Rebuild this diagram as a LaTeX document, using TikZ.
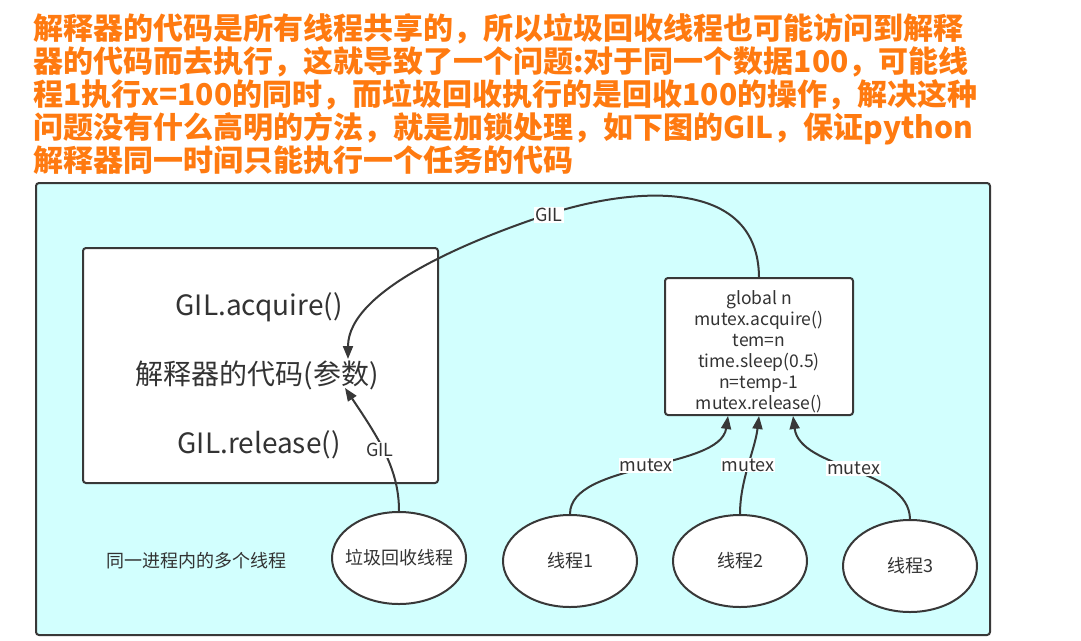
\documentclass[tikz,border=0pt]{standalone}
\usepackage{fontspec}
\setmainfont{Noto Sans CJK SC}
\usepackage{xcolor}
\usetikzlibrary{positioning, shapes, arrows.meta, calc}

\definecolor{titleorange}{HTML}{FF7A10}
\definecolor{bgcyan}{HTML}{D2FFFE}
\definecolor{linegray}{HTML}{383838}
\definecolor{textgray}{HTML}{333333}

\begin{document}
\begin{tikzpicture}[x=1pt, y=-1pt,
    frame/.style={draw=linegray, line width=2pt, rounded corners=3pt},
    thread/.style={ellipse, draw=linegray, fill=white, line width=2pt, inner sep=0pt, minimum width=134pt, minimum height=92pt},
    threadtext/.style={font=\fontsize{18pt}{21pt}\selectfont, text=textgray},
    boxtext/.style={font=\fontsize{28pt}{32pt}\selectfont, text=textgray},
    conn/.style={draw=linegray, line width=2pt, -{Triangle[length=13pt, width=10pt]}},
    lbl/.style={fill=white, inner sep=1pt, font=\fontsize{18pt}{21pt}\selectfont, text=textgray}]
  \useasboundingbox (0,0) rectangle (1081,640);

  % Explanation above the diagram
  \node[anchor=north west, align=left, inner sep=0, text=titleorange,
        font=\fontsize{30pt}{33pt}\selectfont\bfseries] (title) at (33,13)
    {解释器的代码是所有线程共享的，所以垃圾回收线程也可能访问到解释\\
     器的代码而去执行，这就导致了一个问题:对于同一个数据100，可能线\\
     程1执行x=100的同时，而垃圾回收执行的是回收100的操作，解决这种\\
     问题没有什么高明的方法，就是加锁处理，如下图的GIL，保证python\\
     解释器同一时间只能执行一个任务的代码};

  % Process area and boxes
  \node[frame, fill=bgcyan, anchor=north west, minimum width=954pt, minimum height=452pt] (proc) at (35,182) {};
  \node[frame, fill=white, anchor=north west, minimum width=355pt, minimum height=235pt] (interp) at (82,247) {};
  \node[boxtext] (acq) at (259,307) {GIL.acquire()};
  \node[boxtext] (code) at (257,375) {解释器的代码(参数)};
  \node[boxtext] (rel) at (259,445) {GIL.release()};

  \node[frame, fill=white, minimum width=188pt, minimum height=137pt] (codebox) at (759,346.5) {};
  \node[align=center, text=textgray, font=\fontsize{17.5pt}{21pt}\selectfont] (codetext) at (759,352)
    {global n\\mutex.acquire()\\tem=n\\time.sleep(0.5)\\n=temp-1\\mutex.release()};

  \node[threadtext] (note) at (196,561) {同一进程内的多个线程};

  % Threads
  \node[thread, label={[threadtext]center:垃圾回收线程}] (gc) at (399,558) {};
  \foreach \n/\x/\y in {1/570/561, 2/740/561, 3/910/566}
    \node[thread, label={[threadtext]center:线程\n}] (t\n) at (\x,\y) {};

  \coordinate (gilin) at (348,359);
  \coordinate (gilgc) at (345,388);
  \coordinate (m1) at ([xshift=-31pt]codebox.south);
  \coordinate (m2) at (codebox.south);
  \coordinate (m3) at ([xshift=34pt]codebox.south);

  % GIL arrows
  \draw[conn] (codebox.north) .. controls (758,180) and (640,185) .. (549,214)
    .. controls (470,240) and (348,290) .. (gilin);
  \node[lbl] (giltop) at (549,215) {GIL};
  \draw[conn] (gc.north) .. controls (399,470) and (380,440) .. (gilgc);
  \node[lbl] (gilbot) at (380,450) {GIL};

  % mutex arrows
  \draw[conn] (t1.north) .. controls (570,462) and (720,470) .. node[lbl] {mutex} (m1);
  \draw[conn] (t2.north) .. controls (740,480) and (755,450) .. node[lbl] {mutex} (m2);
  \draw[conn] (t3.north) .. controls (909,468) and (800,470) .. node[lbl] {mutex} (m3);
\end{tikzpicture}
\end{document}
